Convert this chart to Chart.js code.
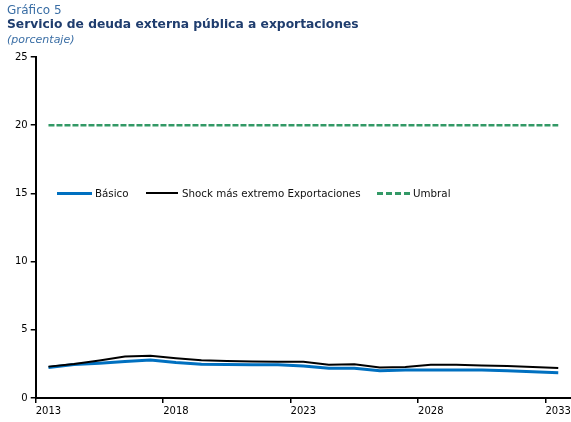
<!DOCTYPE html>
<html>
<head>
<meta charset="utf-8">
<script src="https://cdn.jsdelivr.net/npm/chart.js@4/dist/chart.umd.min.js"></script>
<style>
  body { margin: 0; background: #fff; font-family: "DejaVu Sans", Verdana, sans-serif; }
  #wrap { position: relative; width: 571px; height: 422px; }
  #wrap canvas { position: absolute; left: 0; top: 0; }
  .t1 { position: absolute; left: 7px; top: 3px; font-size: 12px; color: #3a6ea5; }
  .t2 { position: absolute; left: 7px; top: 17px; font-size: 12.3px; font-weight: bold; color: #1f3d6e; }
  .t3 { position: absolute; left: 7px; top: 33px; font-size: 11px; font-style: italic; color: #3a6ea5; }
  .lg { position: absolute; top: 186px; font-size: 10.3px; color: #111; line-height: 14px; }
  .sw { position: absolute; height: 0; }
</style>
</head>
<body>
<div id="wrap">
  <canvas id="chart" width="571" height="422"></canvas>
  <div class="t1">Gráfico 5</div>
  <div class="t2">Servicio de deuda externa pública a exportaciones</div>
  <div class="t3">(porcentaje)</div>
  <span class="sw" style="left:57px;top:192px;width:35px;border-top:3px solid #0070c0"></span>
  <span class="lg" style="left:95px">Básico</span>
  <span class="sw" style="left:146px;top:192px;width:32px;border-top:2px solid #000"></span>
  <span class="lg" style="left:182px">Shock más extremo Exportaciones</span>
  <span class="sw" style="left:377px;top:192px;width:33px;border-top:3px dashed #339966"></span>
  <span class="lg" style="left:413px">Umbral</span>
</div>
<script>
// años y series (porcentaje)
const years = [2013, 2014, 2015, 2016, 2017, 2018, 2019, 2020, 2021, 2022, 2023,
               2024, 2025, 2026, 2027, 2028, 2029, 2030, 2031, 2032, 2033];
const basico = [2.23, 2.45, 2.55, 2.67, 2.79, 2.6, 2.47, 2.45, 2.43, 2.43, 2.35,
                2.18, 2.18, 1.99, 2.06, 2.06, 2.06, 2.06, 1.99, 1.93, 1.86];
const shock  = [2.3, 2.5, 2.75, 3.04, 3.09, 2.92, 2.77, 2.72, 2.67, 2.65, 2.65,
                2.43, 2.48, 2.23, 2.28, 2.43, 2.43, 2.38, 2.35, 2.28, 2.2];
const umbral = [20, 20, 20, 20, 20, 20, 20, 20, 20, 20, 20,
                20, 20, 20, 20, 20, 20, 20, 20, 20, 20];
const xTicks = [2012.5, 2017.5, 2022.5, 2027.5, 2032.5];
const yTicks = [0, 5, 10, 15, 20, 25];

const pts = arr => arr.map((v, i) => ({ x: years[i], y: v }));
const font = { family: '"DejaVu Sans", Verdana, sans-serif', size: 10 };

new Chart(document.getElementById('chart'), {
  type: 'line',
  data: {
    datasets: [
      { label: 'Umbral', data: pts(umbral), borderColor: '#339966', borderWidth: 2.5,
        borderDash: [6, 2], pointRadius: 0 },
      { label: 'Shock más extremo Exportaciones', data: pts(shock), borderColor: '#000',
        borderWidth: 2, pointRadius: 0 },
      { label: 'Básico', data: pts(basico), borderColor: '#0070c0', borderWidth: 3, pointRadius: 0 }
    ]
  },
  options: {
    responsive: false, animation: false,
    layout: { padding: { top: 57, left: 12, right: 0, bottom: 3 } },
    plugins: { legend: { display: false }, tooltip: { enabled: false } },
    scales: {
      x: {
        type: 'linear', min: 2012.5, max: 2033.5,
        afterBuildTicks: a => { a.ticks = xTicks.map(v => ({ value: v })); },
        afterFit: a => { a.paddingRight = 0; a.paddingLeft = 0; },
        ticks: { align: 'start', color: '#000', font, padding: 2, maxRotation: 0,
                 callback: v => String(Math.ceil(v)) },
        grid: { drawOnChartArea: false, color: '#000', lineWidth: 1.5, tickLength: 5 },
        border: { color: '#000', width: 2 }
      },
      y: {
        min: 0, max: 25,
        afterBuildTicks: a => { a.ticks = yTicks.map(v => ({ value: v })); },
        ticks: { color: '#000', font, padding: 3 },
        grid: { drawOnChartArea: false, color: '#000', lineWidth: 1.5, tickLength: 5 },
        border: { color: '#000', width: 2 }
      }
    }
  }
});
</script>
</body>
</html>
